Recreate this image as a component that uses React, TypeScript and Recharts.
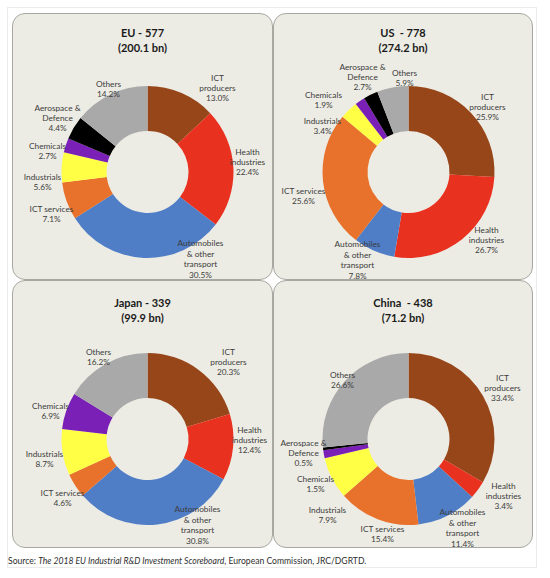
import React from "react";
import { PieChart, Pie, Cell } from "recharts";

// ---------- data ----------
const categories = [
  "ICT producers",
  "Health industries",
  "Automobiles & other transport",
  "ICT services",
  "Industrials",
  "Chemicals",
  "Aerospace & Defence",
  "Others",
];
const categoryLines = [
  ["ICT", "producers"],
  ["Health", "industries"],
  ["Automobiles", "& other", "transport"],
  ["ICT services"],
  ["Industrials"],
  ["Chemicals"],
  ["Aerospace &", "Defence"],
  ["Others"],
];
const euValues = [13.0, 22.4, 30.5, 7.1, 5.6, 2.7, 4.4, 14.2];
const usValues = [25.9, 26.7, 7.8, 25.6, 3.4, 1.9, 2.7, 5.9];
const japanValues = [20.3, 12.4, 30.8, 4.6, 8.7, 6.9, 0, 16.2];
const chinaValues = [33.4, 3.4, 11.4, 15.4, 7.9, 1.5, 0.5, 26.6];

const titleLines = [
  ["EU - 577", "(200.1 bn)"],
  ["US  - 778", "(274.2 bn)"],
  ["Japan - 339", "(99.9 bn)"],
  ["China  - 438", "(71.2 bn)"],
];

// ---------- styles / layout ----------
const colors = ["#97461a", "#e8311f", "#4f7ec7", "#e8712b", "#ffff45", "#7a20b6", "#000000", "#a9a9a9"];
const FONT = "Lato, 'Liberation Sans', sans-serif";
const LINE = 10.4;

// label block centre offsets from the pie centre (layout only)
const euLabelOffsets = [[70, -84], [100, -10], [53, 87], [-96, 42], [-105, 10], [-100, -21], [-90, -54], [-39, -83]];
const usLabelOffsets = [[79, -65], [78, 68], [-51, 88], [-105, 24], [-86, -46], [-85, -72], [-46, -95], [-4, -94]];
const japanLabelOffsets = [[81, -77], [102, 1], [50, 86], [-85, 59], [-103, 20], [-97, -28], [0, 0], [-49, -82]];
const chinaLabelOffsets = [[94, -51], [95, 57], [54, 89], [-26, 95], [-81, 76], [-93, 45], [-105, 14], [-66, -59]];

const panels = [
  { left: 12, top: 13, width: 261, height: 267, values: euValues, offsets: euLabelOffsets, title: titleLines[0] },
  { left: 273, top: 13, width: 260, height: 267, values: usValues, offsets: usLabelOffsets, title: titleLines[1] },
  { left: 12, top: 280, width: 261, height: 268, values: japanValues, offsets: japanLabelOffsets, title: titleLines[2] },
  { left: 273, top: 280, width: 260, height: 268, values: chinaValues, offsets: chinaLabelOffsets, title: titleLines[3] },
];

const PIE_CX = 130.5;
const PIE_CY = 154;

const makeLabel = (values: number[], offsets: number[][]) => (props: any) => {
  const index = props.index;
  if (!values[index]) return null;
  const cx = typeof props.cx === "number" ? props.cx : PIE_CX;
  const cy = typeof props.cy === "number" ? props.cy : PIE_CY;
  const [dx, dy] = offsets[index];
  const lines = [...categoryLines[index], values[index].toFixed(1) + "%"];
  const n = lines.length;
  const x = cx + dx;
  return (
    <text x={x} y={cy + dy} textAnchor="middle" fontFamily={FONT} fontSize={8.3} fill="#3c3c3c">
      {lines.map((t, i) => (
        <tspan key={i} x={x} y={cy + dy + (i - (n - 1) / 2) * LINE} dominantBaseline="central">
          {t}
        </tspan>
      ))}
    </text>
  );
};

function Panel({ p }: { p: (typeof panels)[number] }) {
  const data = categories.map((name, i) => ({ name, value: p.values[i] }));
  return (
    <>
      <div
        style={{
          position: "absolute",
          left: p.left,
          top: p.top,
          width: p.width,
          height: p.height,
          boxSizing: "border-box",
          border: "1.5px solid #a8a8a2",
          borderRadius: 13,
          background: "#edece4",
        }}
      />
      <div
        style={{
          position: "absolute",
          left: p.left,
          top: p.top + (p.top > 100 ? 16 : 13),
          width: p.width,
          textAlign: "center",
          fontFamily: FONT,
          fontWeight: 700,
          fontSize: 11,
          lineHeight: "14.5px",
          color: "#1a1a1a",
          whiteSpace: "pre",
        }}
      >
        <div>{p.title[0]}</div>
        <div>{p.title[1]}</div>
      </div>
      <div style={{ position: "absolute", left: p.left, top: p.top }}>
        <PieChart width={p.width} height={p.height}>
          <Pie
            data={data}
            dataKey="value"
            nameKey="name"
            cx={PIE_CX}
            cy={PIE_CY}
            innerRadius={41}
            outerRadius={86}
            startAngle={90}
            endAngle={-270}
            stroke="none"
            isAnimationActive={false}
            labelLine={false}
            label={makeLabel(p.values, p.offsets)}
          >
            {data.map((d, i) => (
              <Cell key={d.name} fill={colors[i]} />
            ))}
          </Pie>
        </PieChart>
      </div>
    </>
  );
}

export default function App() {
  return (
    <div
      style={{
        position: "absolute",
        left: 0,
        top: 0,
        width: 550,
        height: 578,
        background: "#ffffff",
        overflow: "hidden",
      }}
    >
      <div
        style={{
          position: "absolute",
          left: 7,
          top: 7,
          width: 530,
          height: 561,
          boxSizing: "border-box",
          border: "1px solid #ebebeb",
        }}
      />
      {panels.map((p, i) => (
        <Panel key={i} p={p} />
      ))}
      <div
        style={{
          position: "absolute",
          left: 8,
          top: 556,
          fontFamily: FONT,
          fontSize: 8.6,
          color: "#2e2e2e",
          whiteSpace: "nowrap",
        }}
      >
        Source: <i>The 2018 EU Industrial R&amp;D Investment Scoreboard</i>, European Commission, JRC/DGRTD.
      </div>
    </div>
  );
}
